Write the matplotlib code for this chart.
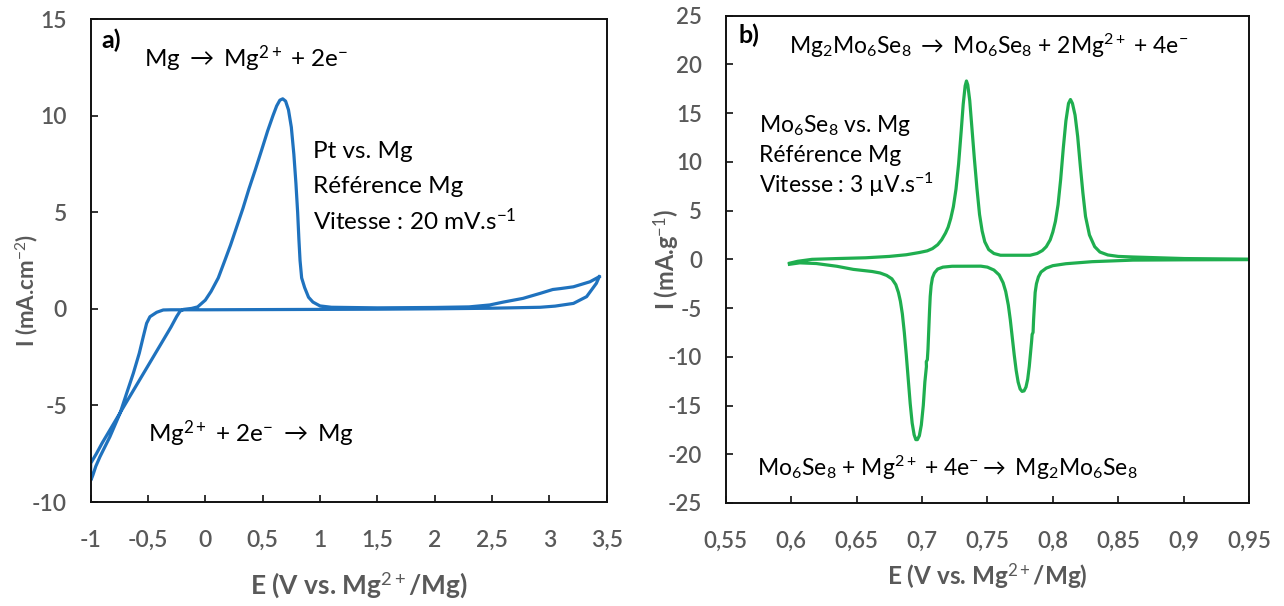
import matplotlib
matplotlib.use('Agg')
import matplotlib.pyplot as plt

plt.rcParams['font.family'] = ['Lato', 'DejaVu Sans']
plt.rcParams['mathtext.fontset'] = 'custom'
plt.rcParams['mathtext.rm'] = 'Lato'
plt.rcParams['mathtext.it'] = 'Lato:italic'
plt.rcParams['mathtext.bf'] = 'Lato:bold'

# ---- panel a) : Pt vs. Mg, 20 mV/s
A_E = [3.435, 3.41, 3.325, 3.21, 3.05, 2.92, 2.48, 2.0, 1.5, 1.0, 0.5, 0.0,
       -0.2, -0.3, -0.367, -0.424, -0.483, -0.512, -0.541, -0.576, -0.628,
       -0.686, -0.744, -0.832, -0.919, -0.955, -0.98, -0.995, -1.0,
       -1.0, -0.95, -0.9, -0.8, -0.7, -0.6, -0.5, -0.4, -0.3, -0.25, -0.22,
       -0.19, -0.12, -0.067, 0.0, 0.05, 0.113, 0.17, 0.22, 0.274, 0.328, 0.38,
       0.436, 0.49, 0.543, 0.59, 0.622, 0.65, 0.675, 0.70, 0.725, 0.75, 0.772,
       0.79, 0.805, 0.816, 0.826, 0.84, 0.866, 0.9, 0.938, 1.0, 1.1, 1.5,
       2.0, 2.3, 2.48, 2.6, 2.77, 2.92, 3.03, 3.1, 3.21, 3.354, 3.435]
A_I = [1.66, 1.32, 0.63, 0.28, 0.14, 0.08, 0.03, 0.0, -0.02, -0.03, -0.04, -0.05,
       -0.05, -0.05, -0.06, -0.18, -0.41, -0.75, -1.44, -2.3, -3.34,
       -4.37, -5.41, -6.62, -7.66, -8.15, -8.6, -8.83, -8.88,
       -8.0, -7.5, -6.95, -5.95, -4.95, -3.95, -2.95, -1.95, -0.95, -0.4, -0.12,
       -0.03, 0.02, 0.1, 0.45, 0.9, 1.6, 2.5, 3.3, 4.25, 5.2, 6.2,
       7.2, 8.2, 9.2, 10.0, 10.5, 10.8, 10.87, 10.75, 10.3, 9.4, 8.0,
       6.5, 5.0, 3.6, 2.5, 1.6, 1.1, 0.6, 0.35, 0.15, 0.08, 0.05,
       0.07, 0.1, 0.2, 0.35, 0.54, 0.8, 1.0, 1.05, 1.14, 1.4, 1.66]
A_XTICKS = [-1, -0.5, 0, 0.5, 1, 1.5, 2, 2.5, 3, 3.5]
A_XLABELS = ['-1', '-0,5', '0', '0,5', '1', '1,5', '2', '2,5', '3', '3,5']
A_YTICKS = [-10, -5, 0, 5, 10, 15]
A_YLABELS = ['-10', '-5', '0', '5', '10', '15']

# ---- panel b) : Mo6Se8 vs. Mg, 3 uV/s
# anodic sweep 0.6 -> 0.95
B_E_UP = [0.5987, 0.605, 0.616, 0.635, 0.657, 0.675, 0.688, 0.698,
          0.704, 0.708, 0.712, 0.715, 0.718, 0.720, 0.722, 0.724, 0.726, 0.728,
          0.730, 0.7315, 0.733, 0.734, 0.735, 0.7365, 0.738, 0.740, 0.742, 0.744,
          0.746, 0.748, 0.751, 0.755, 0.760, 0.7827,
          0.788, 0.792, 0.795, 0.798, 0.800, 0.802, 0.804, 0.806, 0.808, 0.810,
          0.812, 0.8135, 0.815, 0.817, 0.819, 0.821, 0.823, 0.825, 0.828, 0.832,
          0.836, 0.842, 0.85, 0.8613, 0.9006, 0.95]
B_I_UP = [-0.4, -0.2, 0.0, 0.08, 0.16, 0.3, 0.47, 0.7,
          0.87, 1.1, 1.5, 2.0, 2.7, 3.3, 4.2, 5.4, 7.2, 9.8,
          13.2, 15.9, 17.8, 18.3, 17.9, 16.3, 13.8, 10.4, 7.3, 4.6,
          2.9, 1.8, 1.0, 0.6, 0.42, 0.42,
          0.6, 0.9, 1.3, 2.0, 2.8, 3.9, 5.6, 8.2, 11.4, 14.2,
          16.0, 16.4, 16.0, 14.8, 12.6, 9.6, 6.8, 4.4, 2.5, 1.3,
          0.75, 0.45, 0.3, 0.24, 0.08, 0.02]
# cathodic sweep 0.95 -> 0.6
B_E_DOWN = [0.95, 0.9, 0.8613, 0.83, 0.81, 0.80, 0.795, 0.791, 0.789, 0.7875,
            0.7865, 0.786, 0.7853, 0.7849, 0.7842, 0.7838, 0.783, 0.782, 0.7808,
            0.7795, 0.778, 0.7765, 0.775, 0.7735, 0.772, 0.7705, 0.769, 0.7675,
            0.766, 0.764, 0.762, 0.759, 0.755, 0.75, 0.745,
            0.723, 0.716, 0.712, 0.7095, 0.708, 0.707, 0.7063, 0.7058, 0.7052,
            0.7046, 0.7041, 0.7033, 0.7034, 0.7022, 0.701, 0.6995, 0.698, 0.6965,
            0.6953, 0.694, 0.6925, 0.691, 0.6895, 0.688, 0.6865, 0.685, 0.6835,
            0.682, 0.68, 0.677, 0.673, 0.668, 0.662, 0.6475, 0.6349, 0.6192,
            0.6066, 0.5987]
B_I_DOWN = [-0.03, -0.05, -0.08, -0.24, -0.45, -0.65, -0.9, -1.3, -1.8, -2.5,
            -3.4, -4.6, -6.2, -7.5, -7.7, -8.4, -9.6, -11.0, -12.3,
            -13.1, -13.5, -13.55, -13.3, -12.6, -11.4, -9.8, -8.0, -6.2,
            -4.7, -3.3, -2.4, -1.6, -1.1, -0.8, -0.7,
            -0.71, -0.8, -1.0, -1.4, -1.9, -2.7, -3.8, -5.2, -7.2,
            -9.2, -10.3, -10.5, -11.0, -12.6, -15.0, -17.0, -18.1, -18.5,
            -18.5, -18.0, -16.8, -14.8, -12.3, -9.8, -7.5, -5.6, -4.3,
            -3.4, -2.6, -2.0, -1.65, -1.4, -1.25, -1.03, -0.71, -0.43,
            -0.36, -0.51]
B_XTICKS = [0.55, 0.6, 0.65, 0.7, 0.75, 0.8, 0.85, 0.9, 0.95]
B_XLABELS = ['0,55', '0,6', '0,65', '0,7', '0,75', '0,8', '0,85', '0,9', '0,95']
B_YTICKS = [-25, -20, -15, -10, -5, 0, 5, 10, 15, 20, 25]
B_YLABELS = ['-25', '-20', '-15', '-10', '-5', '0', '5', '10', '15', '20', '25']

GRAY = '#595959'
BLUE = '#1F72BE'
GREEN = '#1FAE4F'

fig = plt.figure(figsize=(12.84, 6.06), dpi=100)
ax1 = fig.add_axes([0.0706, 0.1716, 0.4019, 0.797])
ax2 = fig.add_axes([0.5652, 0.170, 0.4076, 0.8041])


def style_axes(ax, xt, xl, yt, yl, size, xpad):
    ax.set_xticks(xt, xl)
    ax.set_yticks(yt, yl)
    for s in ax.spines.values():
        s.set_color('#111111')
        s.set_linewidth(1.4)
    ax.tick_params(direction='in', length=5, width=1.2, color='#111111',
                   labelsize=size, labelcolor=GRAY)
    ax.tick_params(axis='x', pad=xpad)
    ax.tick_params(axis='y', pad=17)
    for t in ax.get_xticklabels() + ax.get_yticklabels():
        t.set_fontweight('semibold')


ax1.plot(A_E, A_I, color=BLUE, lw=2.3, solid_joinstyle='round')
ax1.set_xlim(-1, 3.5)
ax1.set_ylim(-10, 15)
style_axes(ax1, A_XTICKS, A_XLABELS, A_YTICKS, A_YLABELS, 16.5, 20)
ax1.set_xlabel('E (V vs. Mg$^{2+}$/Mg)', fontsize=19, color=GRAY, fontweight='bold')
ax1.set_ylabel('I (mA.cm$^{-2}$)', fontsize=16, color=GRAY, fontweight='bold')
ax1.xaxis.set_label_coords(0.52, -0.172)
ax1.xaxis.label.set_va('center')
ax1.yaxis.set_label_coords(-0.123, 0.437)
ax1.yaxis.label.set_va('center')

FA = 17.5
ax1.text(-0.91, 13.5, 'a)', fontsize=18, fontweight='bold', va='baseline')
ax1.text(-0.535, 12.5, r'Mg $\rightarrow$ Mg$^{2+}$ + 2e$^{-}$', fontsize=FA, va='baseline')
ax1.text(0.938, 7.8, 'Pt vs. Mg', fontsize=FA, va='baseline')
ax1.text(0.938, 6.0, 'Référence Mg', fontsize=FA, va='baseline')
ax1.text(0.938, 4.1, 'Vitesse : 20 mV.s$^{-1}$', fontsize=FA, va='baseline')
ax1.text(-0.5, -6.9, r'Mg$^{2+}$ + 2e$^{-}$ $\rightarrow$ Mg', fontsize=FA, va='baseline')

ax2.plot(B_E_UP + B_E_DOWN, B_I_UP + B_I_DOWN, color=GREEN, lw=2.3,
         solid_joinstyle='round')
ax2.set_xlim(0.55, 0.95)
ax2.set_ylim(-25, 25)
style_axes(ax2, B_XTICKS, B_XLABELS, B_YTICKS, B_YLABELS, 16, 20)
ax2.set_xlabel('E (V vs. Mg$^{2+}$/Mg)', fontsize=17.5, color=GRAY, fontweight='bold')
ax2.set_ylabel('I (mA.g$^{-1}$)', fontsize=17, color=GRAY, fontweight='bold')
ax2.xaxis.set_label_coords(0.5, -0.152)
ax2.xaxis.label.set_va('center')
ax2.yaxis.set_label_coords(-0.112, 0.5)
ax2.yaxis.label.set_va('center')

FB = 16.5
ax2.text(0.5594, 22.2, 'b)', fontsize=18, fontweight='bold', va='baseline')
ax2.text(0.5987, 21.1, r'Mg$_{2}$Mo$_{6}$Se$_{8}$ $\rightarrow$ Mo$_{6}$Se$_{8}$ + 2Mg$^{2+}$ + 4e$^{-}$',
         fontsize=FB, va='baseline')
ax2.text(0.5752, 13.1, 'Mo$_{6}$Se$_{8}$ vs. Mg', fontsize=FB, va='baseline')
ax2.text(0.5752, 9.96, 'Référence Mg', fontsize=FB, va='baseline')
ax2.text(0.5752, 6.8, 'Vitesse : 3 µV.s$^{-1}$', fontsize=FB, va='baseline')
ax2.text(0.5736, -22.25, r'Mo$_{6}$Se$_{8}$ + Mg$^{2+}$ + 4e$^{-}$$\rightarrow$ Mg$_{2}$Mo$_{6}$Se$_{8}$',
         fontsize=FB, va='baseline')

fig.savefig('out.png', dpi=100, facecolor='white')
